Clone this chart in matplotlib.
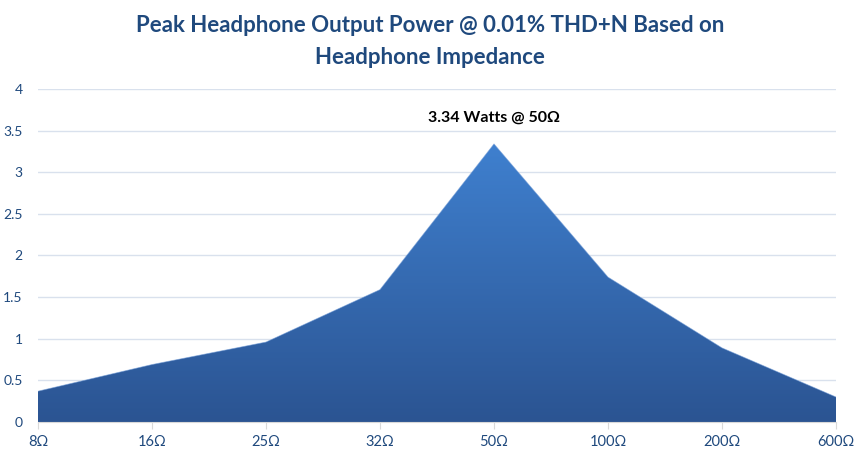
import matplotlib
matplotlib.use("Agg")
import matplotlib.pyplot as plt
import numpy as np
from matplotlib.colors import LinearSegmentedColormap
from matplotlib.patches import Polygon

categories = ["8Ω", "16Ω", "25Ω", "32Ω", "50Ω", "100Ω", "200Ω", "600Ω"]
power = [0.37, 0.69, 0.96, 1.59, 3.34, 1.74, 0.89, 0.30]
yticks = [0, 0.5, 1, 1.5, 2, 2.5, 3, 3.5, 4]
ytick_labels = ["0", "0.5", "1", "1.5", "2", "2.5", "3", "3.5", "4"]
title_lines = ["Peak Headphone Output Power @ 0.01% THD+N Based on", "Headphone Impedance"]
annotation = "3.34 Watts @ 50Ω"

plt.rcParams['font.family'] = ['Lato', 'DejaVu Sans']

fig = plt.figure(figsize=(8.6, 4.51), dpi=100)
ax = fig.add_axes([38/860, (451-422)/451, (836-38)/860, (422-89)/451])

x = np.arange(len(categories))
xmax = len(categories) - 1
ax.set_xlim(0, xmax)
ax.set_ylim(0, 4)

# gradient fill clipped to area polygon
cmap = LinearSegmentedColormap.from_list("g", ["#2b5492", "#3f80cf"])
grad = np.linspace(0, 1, 256).reshape(-1, 1)
im = ax.imshow(grad, extent=[0, xmax, 0, max(power)], origin="lower",
               cmap=cmap, aspect="auto", zorder=2)
verts = [(0, 0)] + list(zip(x, power)) + [(xmax, 0)]
poly = Polygon(verts, closed=True, facecolor="none", edgecolor="none")
ax.add_patch(poly)
im.set_clip_path(poly)
ax.plot(x, power, color="#6f9ad6", lw=0.6, zorder=3, alpha=0.6)

ax.set_yticks(yticks)
ax.set_yticklabels(ytick_labels)
ax.set_xticks(x)
ax.set_xticklabels(categories)
ax.grid(axis="y", color="#d9e1ed", lw=1, zorder=0)
ax.set_axisbelow(True)
for s in ["top", "right", "left"]:
    ax.spines[s].set_visible(False)
ax.spines["bottom"].set_color("#d9d9d9")
ax.spines["bottom"].set_zorder(4)
ax.tick_params(axis="y", length=0, pad=11, labelsize=10, labelcolor="#1f497d")
ax.tick_params(axis="x", length=5, color="#d9d9d9", pad=4, labelsize=10.5, labelcolor="#1f497d")
for lbl in ax.get_yticklabels():
    lbl.set_horizontalalignment("right")

ax.text(4, 3.66, annotation, ha="center", va="center", fontsize=11.5,
        fontweight="bold", color="black")

fig.text(0.5, (451-25)/451, title_lines[0], ha="center", va="center", fontsize=16,
         fontweight="bold", color="#1f497d")
fig.text(0.5, (451-57)/451, title_lines[1], ha="center", va="center", fontsize=16,
         fontweight="bold", color="#1f497d")

fig.savefig("out.png", dpi=100, facecolor="white")
